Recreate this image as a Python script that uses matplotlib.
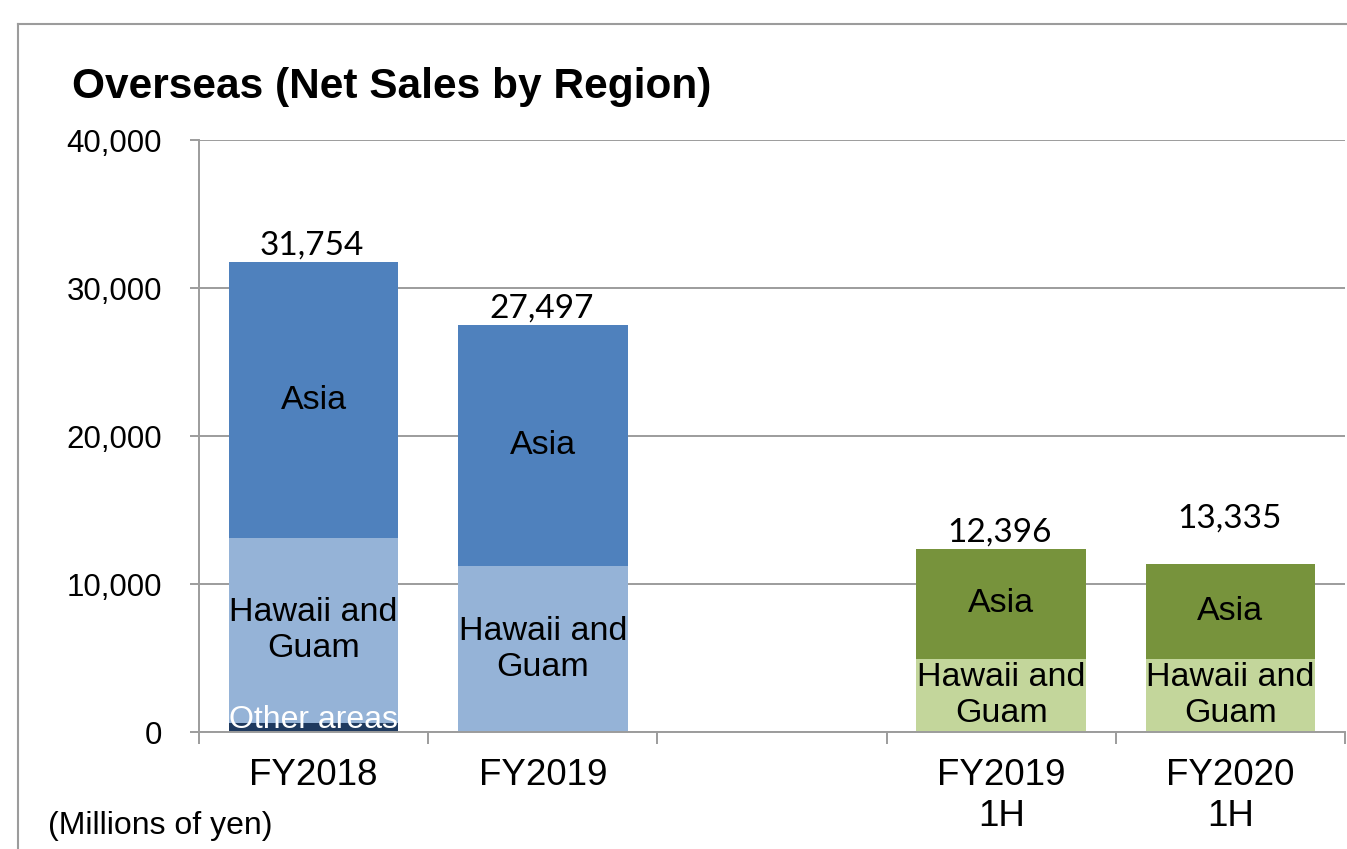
import numpy as np
import matplotlib
matplotlib.use('Agg')
import matplotlib.pyplot as plt
from matplotlib.lines import Line2D

# Data (millions of yen)
categories = ['FY2018', 'FY2019', '', 'FY2019\n1H', 'FY2020\n1H']
other_areas = [600, 0, 0, 0, 0]
hawaii_guam = [12500, 11200, 0, 4930, 4930]
asia = [18654, 16297, 0, 7466, 6420]
totals = [31754, 27497, None, 12396, 13335]
total_labels = ['31,754', '27,497', '', '12,396', '13,335']

asia_colors = ['#4F81BD', '#4F81BD', '#4F81BD', '#77933C', '#77933C']
hawaii_colors = ['#95B3D7', '#95B3D7', '#95B3D7', '#C3D69B', '#C3D69B']
other_color = '#1F3A5F'
grid_color = '#9c9c9c'

plt.rcParams['font.family'] = ['Liberation Sans', 'DejaVu Sans']

fig = plt.figure(figsize=(13.47, 8.49), dpi=100)
ax = fig.add_axes([199 / 1347, 1 - 732 / 849, 1146 / 1347, 592 / 849])

x = np.arange(len(categories))
width = 0.74
other = np.array(other_areas)
hawaii = np.array(hawaii_guam)
asia_v = np.array(asia)

ax.bar(x, other, width, color=other_color, zorder=2)
ax.bar(x, hawaii, width, bottom=other, color=hawaii_colors, zorder=2)
ax.bar(x, asia_v, width, bottom=other + hawaii, color=asia_colors, zorder=2)

# segment labels
for i in range(len(categories)):
    if asia_v[i] > 0:
        ax.text(x[i], other[i] + hawaii[i] + asia_v[i] / 2, 'Asia',
                ha='center', va='center', fontsize=24.5, zorder=3)
    if hawaii[i] > 0:
        ax.text(x[i], other[i] + hawaii[i] / 2, 'Hawaii and\nGuam',
                ha='center', va='center', fontsize=24.5, zorder=3)
    if other[i] > 0:
        ax.text(x[i], other[i] / 2, 'Other areas', ha='center', va='baseline',
                fontsize=23, color='white', zorder=3)
    if totals[i] is not None:
        ax.annotate(total_labels[i], (x[i], totals[i]), xytext=(-1, 1),
                    textcoords='offset points', ha='center', va='bottom',
                    fontsize=24, family=['Lato', 'DejaVu Sans'], zorder=3)

ax.set_xlim(-0.5, len(categories) - 0.5)
ax.set_ylim(0, 40000)
ax.set_yticks([0, 10000, 20000, 30000, 40000])
ax.set_yticklabels(['0', '10,000', '20,000', '30,000', '40,000'], fontsize=22.5)
ax.yaxis.grid(True, color=grid_color, linewidth=1.4, zorder=0)
ax.set_axisbelow(True)

ax.set_xticks(x)
ax.set_xticklabels(categories, fontsize=26.5)
ax.set_xticks(np.arange(len(categories) + 1) - 0.5, minor=True)
ax.tick_params(axis='x', which='major', length=0, pad=19)
ax.tick_params(axis='x', which='minor', length=8.5, width=1.4, color=grid_color)
ax.tick_params(axis='y', length=6.5, width=1.4, color=grid_color, pad=20)

for side in ['top', 'right']:
    ax.spines[side].set_visible(False)
for side in ['left', 'bottom']:
    ax.spines[side].set_color(grid_color)
    ax.spines[side].set_linewidth(1.4)

# outer frame
fig.add_artist(Line2D([18 / 1347, 1.0], [1 - 24 / 849, 1 - 24 / 849],
                      color=grid_color, linewidth=1.5, transform=fig.transFigure))
fig.add_artist(Line2D([18 / 1347, 18 / 1347], [0, 1 - 24 / 849],
                      color=grid_color, linewidth=1.5, transform=fig.transFigure))

fig.text(72 / 1347, 1 - 87 / 849, 'Overseas (Net Sales by Region)',
         fontsize=30.5, fontweight='bold', ha='left', va='center')
fig.text(48 / 1347, 1 - 826 / 849, '(Millions of yen)', fontsize=23,
         ha='left', va='center')

fig.savefig('out.png', dpi=100)
